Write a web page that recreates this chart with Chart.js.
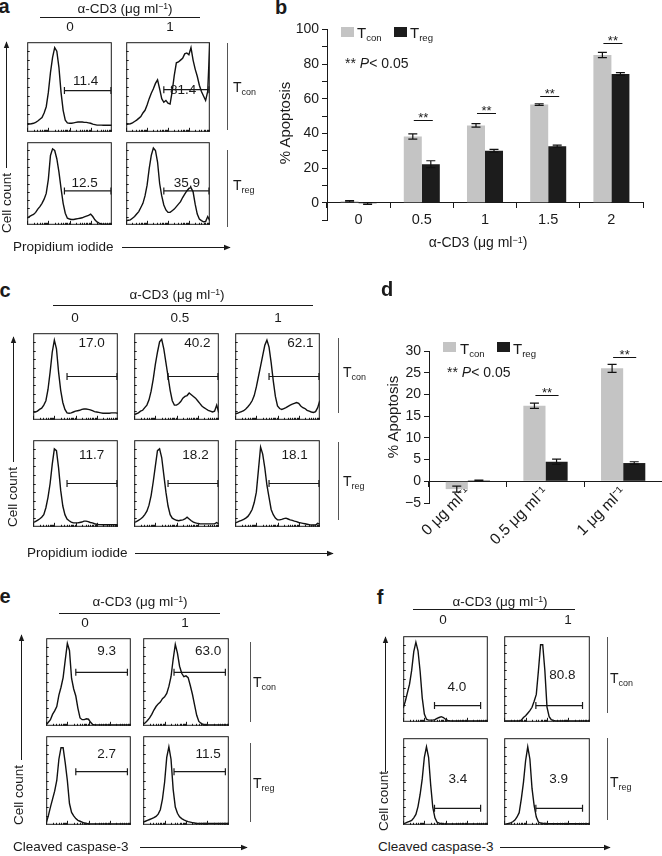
<!DOCTYPE html>
<html>
<head>
<meta charset="utf-8">
<script src="https://cdn.jsdelivr.net/npm/chart.js@4.4.1/dist/chart.umd.min.js"></script>
<style>
  body { margin: 0; background: #fff; }
  #fig { position: relative; width: 662px; height: 856px; background: #fff; overflow: hidden;
         font-family: "Liberation Sans", Arial, sans-serif; color: #1a1a1a; }
  #fig canvas { position: absolute; }
  .t { position: absolute; white-space: nowrap; line-height: 1; }
  .c { transform: translate(-50%, -50%); }
  .l { transform: translate(0, -50%); }
  .r { transform: translate(-50%, -50%) rotate(-90deg); }
  .b { font-weight: bold; }
  sub { font-size: 0.64em; vertical-align: -0.32em; line-height: 0; }
  sup { font-size: 0.64em; vertical-align: 0.5em; line-height: 0; }
  svg { position: absolute; left: 0; top: 0; }
  .sq { position: absolute; }
</style>
</head>
<body>
<div id="fig">
<svg width="662" height="856">
  <defs>
    <marker id="ah" viewBox="0 0 10 10" refX="9" refY="5" markerWidth="7" markerHeight="7" orient="auto">
      <path d="M0,1 L10,5 L0,9 z" fill="#1a1a1a"/>
    </marker>
  </defs>
  <g stroke="#1a1a1a" stroke-width="1" fill="none">
    <!-- a -->
    <line x1="40" y1="17.5" x2="200" y2="17.5"/>
    <line x1="6.5" y1="168" x2="6.5" y2="42" marker-end="url(#ah)"/>
    <line x1="122" y1="247.5" x2="230" y2="247.5" marker-end="url(#ah)"/>
    <!-- c -->
    <line x1="53" y1="305.5" x2="313" y2="305.5"/>
    <line x1="13.5" y1="462" x2="13.5" y2="337" marker-end="url(#ah)"/>
    <line x1="135" y1="553.5" x2="333" y2="553.5" marker-end="url(#ah)"/>
    <!-- e -->
    <line x1="59" y1="613.5" x2="220" y2="613.5"/>
    <line x1="21.5" y1="760" x2="21.5" y2="635" marker-end="url(#ah)"/>
    <line x1="140" y1="847.5" x2="247" y2="847.5" marker-end="url(#ah)"/>
    <!-- f -->
    <line x1="413" y1="609.5" x2="575" y2="609.5"/>
    <line x1="385.5" y1="772" x2="385.5" y2="637" marker-end="url(#ah)"/>
    <line x1="500" y1="847.5" x2="610" y2="847.5" marker-end="url(#ah)"/>
  </g>
  <g stroke="#555" stroke-width="1">
    <line x1="227.5" y1="43" x2="227.5" y2="130"/>
    <line x1="227.5" y1="150" x2="227.5" y2="227"/>
    <line x1="338.5" y1="338" x2="338.5" y2="413"/>
    <line x1="338.5" y1="442" x2="338.5" y2="520"/>
    <line x1="250.5" y1="642" x2="250.5" y2="722"/>
    <line x1="250.5" y1="743" x2="250.5" y2="822"/>
    <line x1="607.5" y1="637" x2="607.5" y2="713"/>
    <line x1="607.5" y1="738" x2="607.5" y2="820"/>
  </g>
</svg>
</div>
<script>
// ---------- data ----------
// common bin positions across each histogram box (% of width)
const binX = [0, 2.5, 5, 7.5, 10, 12.5, 15, 17.5, 20, 22.5, 25, 27.5, 30, 32.5, 35, 37.5, 40, 42.5, 45, 47.5,
              50, 52.5, 55, 57.5, 60, 62.5, 65, 67.5, 70, 72.5, 75, 77.5, 80, 82.5, 85, 87.5, 90, 92.5, 95, 97.5, 100];

// panel a: propidium iodide, alpha-CD3 0 / 1 (cell count, % of box height)
const aTcon0 = [8, 8.5, 9, 9.5, 10.5, 12, 14, 16, 21, 28, 44, 66, 83, 94, 90, 72, 44, 24, 13, 10,
                9.5, 9.5, 10, 10.5, 11, 11, 11, 10.5, 10.5, 10, 9.5, 8.5, 8, 7.5, 7.5, 7.5, 7.3, 7.3, 7.3, 7.3, 7.3];
const aTcon1 = [8, 8.5, 9, 10, 11.5, 13, 15, 17, 21, 24, 30, 37, 43, 48, 54, 58, 48, 37, 33, 35,
                32, 31, 45, 63, 77, 78, 80, 82, 87, 88, 86, 94, 80, 70, 62, 52, 45, 40, 35, 45, 100];
const aTreg0 = [8, 10, 11.5, 12.5, 15, 19, 22, 26, 31, 38, 55, 84, 92, 90, 80, 64, 44, 26, 14, 8,
                7, 6.5, 6.5, 7, 7.5, 8, 8.5, 9.5, 10.5, 11.5, 13, 10, 6, 3.5, 2, 1, 0.7, 0.7, 0.7, 0.7, 0.7];
const aTreg1 = [5, 5.5, 6, 8, 10, 13, 16, 21, 26, 35, 48, 68, 84, 93, 90, 76, 50, 35, 24, 18,
                15, 15, 17, 19, 22, 25, 28, 33, 37, 41, 44, 45, 40, 25, 13, 7, 5, 3.6, 4, 10, 5];
const aGateText = ['11.4', '81.4', '12.5', '35.9'];

// panel b: % apoptosis
const bDoses = ['0', '0.5', '1', '1.5', '2'];
const bTcon = [0.8, 38.2, 44.6, 56.6, 85.2];
const bTreg = [-0.5, 22.2, 30.0, 32.6, 74.2];
const bTconErr = [0.4, 1.5, 1.0, 0.5, 1.5];
const bTregErr = [0.5, 2.0, 0.8, 0.6, 0.8];
const bSig = [null, 48, 51.6, 61.4, 92];

// panel c: propidium iodide, alpha-CD3 0 / 0.5 / 1
const cTcon0 = [8.5, 9, 10, 12, 13.5, 17, 22, 35, 55, 78, 92, 82, 55, 34, 20, 12, 8, 7.5, 8, 9,
                10, 10.5, 11, 12, 12.5, 12.5, 12, 11.5, 10.5, 9.5, 9, 8.5, 8, 7.5, 7.5, 7.5, 7.5, 8, 8, 8, 7.5];
const cTcon05 = [6, 7, 8, 10, 11, 14, 17, 23, 33, 47, 64, 78, 90, 93, 82, 66, 50, 34, 22, 17,
                 17, 18.5, 21, 25, 27, 28, 31, 29, 27, 25, 22, 19, 16, 14, 12.5, 11, 10, 9, 10, 17, 8];
const cTcon1 = [7, 7.5, 8.5, 9.5, 10.5, 12.5, 15, 18, 22, 28, 38, 50, 62, 74, 86, 92, 84, 66, 45, 27,
                16, 13, 12, 13, 14, 15.5, 17, 18, 19, 20, 19, 16, 14, 13, 11, 10, 9, 8.5, 9.5, 14, 22];
const cTreg0 = [5, 6, 7.5, 9, 11, 14, 22, 34, 50, 72, 90, 88, 68, 42, 24, 14, 9, 7, 5.5, 4.5,
                4.5, 4.5, 5, 5.5, 6.5, 6.5, 6, 5, 4.5, 3.5, 3, 2.5, 2.5, 2.4, 2.4, 2.4, 2.4, 2.4, 2.4, 2.4, 2.4];
const cTreg05 = [5, 6, 7.5, 9, 11, 14, 18, 25, 36, 52, 70, 88, 90, 80, 60, 40, 24, 14, 10, 8.5,
                 7.5, 7, 7.5, 8, 9, 11, 9, 7, 5.5, 4.5, 4, 3.6, 3.4, 3.4, 3.4, 3.4, 3.4, 3.4, 3.4, 5, 3.4];
const cTreg1 = [4.5, 5.5, 6.5, 7.5, 8.5, 10, 12, 15.5, 20, 28, 40, 66, 92, 84, 68, 48, 34, 20, 14, 10,
                8, 8, 8.5, 9.5, 10, 9, 8, 7.5, 6.5, 6, 5, 4.5, 4, 3.5, 3, 2.5, 2, 2, 2, 4, 3];
const cGateText = ['17.0', '40.2', '62.1', '11.7', '18.2', '18.1'];

// panel d: % apoptosis
const dDoses = ['0 μg ml⁻¹', '0.5 μg ml⁻¹', '1 μg ml⁻¹'];
const dTcon = [-1.8, 17.4, 26.0];
const dTreg = [0.2, 4.5, 4.2];
const dTconErr = [0.7, 0.6, 0.9];
const dTregErr = [0.05, 0.6, 0.3];
const dSig = [null, 19.9, 28.7];

// panel e: cleaved caspase-3, alpha-CD3 0 / 1
const eTcon0 = [1, 4, 7, 13, 17, 22, 35, 44, 55, 75, 94, 86, 54, 42, 34, 20, 9, 7, 7, 8,
                7.5, 4, 1.5, 1, 1, 1, 1, 1, 1, 1, 1, 1, 1, 1, 1, 1, 1, 1, 1, 1, 1];
const eTcon1 = [2, 3.5, 6, 9, 13, 18, 22, 25, 27, 31, 33, 37, 45, 56, 76, 93, 83, 68, 60, 56,
                57, 55, 46, 36, 24, 12, 5, 3, 1.5, 1, 1, 1, 1, 1, 1, 1, 1, 1, 1, 1, 1];
const eTreg0 = [2, 10, 20, 29, 38, 50, 74, 87, 87, 70, 50, 24, 14, 10, 7, 5, 4, 3, 2, 1.5,
                1, 1, 1, 1, 1, 1, 1, 1, 1, 1, 1, 1, 1, 1, 1, 1, 1, 1, 1, 1, 1];
const eTreg1 = [3, 4, 5, 6, 7, 8, 9.5, 12, 17, 29, 48, 76, 88, 74, 40, 20, 13, 9, 7, 5.6,
                4.5, 3.5, 3, 2.5, 2, 1.5, 1.5, 1.5, 1.5, 1.5, 1.5, 1.5, 1.5, 1.5, 1.5, 1.5, 1.5, 1.5, 1.5, 1.5, 1.5];
const eGateText = ['9.3', '63.0', '2.7', '11.5'];

// panel f: cleaved caspase-3, alpha-CD3 0 / 1
const fTcon0 = [16, 24, 34, 44, 60, 82, 93, 83, 59, 28, 9, 3, 2, 2, 2, 2.5, 4, 5, 6, 5,
                3, 1.7, 1.2, 1, 1, 1, 1, 1, 1, 1, 1, 1, 1, 1, 1, 1, 1, 1, 1, 1, 1];
const fTcon1 = [1, 1, 1, 1, 1, 1, 1, 1, 2, 5, 7, 10, 13, 17, 24, 32, 60, 90, 90, 60,
                17, 6, 2.5, 1.5, 1, 1, 1, 1, 1, 1, 1, 1, 1, 1, 1, 1, 1, 1, 1, 1, 1];
const fTreg0 = [1, 2, 3, 4, 5, 8, 12, 21, 35, 53, 78, 90, 78, 46, 20, 8, 3, 2, 1.5, 1,
                1, 1, 1, 1, 1, 1, 1, 1, 1, 1, 1, 1, 1, 1, 1, 1, 1, 1, 1, 1, 1];
const fTreg1 = [0.7, 1, 1.5, 2.3, 3.5, 5.5, 9, 14, 30, 49, 74, 90, 76, 42, 22, 9, 3.2, 2, 1.7, 1.5,
                1.2, 1.2, 1.2, 1.2, 1.2, 1.2, 1.2, 1.2, 1.2, 1.2, 1.2, 1.2, 1.2, 1.2, 1.2, 1.2, 1.2, 1.2, 1.2, 1.2, 1.2];
const fGateText = ['4.0', '80.8', '3.4', '3.9'];

// ---------- style ----------
const INK = '#1a1a1a';
const GRAY = '#c4c4c4';
const BLACK = '#1c1c1c';
Chart.defaults.font.family = '"Liberation Sans", Arial, sans-serif';
Chart.defaults.color = INK;

const fig = document.getElementById('fig');

// boxes [left, top, width, height], gates [from %, to %, height %, label x %, label y %]
const histPanels = [
  { series: [aTcon0, aTcon1, aTreg0, aTreg1], text: aGateText,
    boxes: [[22, 37, 95, 100], [121, 37, 94, 100], [22, 137, 95, 93], [121, 137, 94, 93]],
    gates: [[44, 99, 46, 67, 56], [45, 99, 47, 66, 47], [44, 99, 41, 66, 51], [45, 99, 41, 70, 51]] },
  { series: [cTcon0, cTcon05, cTcon1, cTreg0, cTreg05, cTreg1], text: cGateText,
    boxes: [[28, 328, 95, 97], [129, 328, 95, 97], [230, 328, 95, 97],
            [28, 435, 95, 97], [129, 435, 95, 97], [230, 435, 95, 97]],
    gates: [[40, 99, 50, 67, 85], [40, 99, 50, 72, 85], [40, 99, 50, 74, 85],
            [40, 99, 50, 67, 79], [40, 99, 50, 70, 79], [40, 99, 50, 68, 79]] },
  { series: [eTcon0, eTcon1, eTreg0, eTreg1], text: eGateText,
    boxes: [[41, 633, 95, 98], [138, 633, 96, 98], [41, 731, 95, 99], [138, 731, 96, 99]],
    gates: [[35, 96, 61, 69, 82], [36, 96, 61, 73, 82], [35, 96, 60, 69, 77], [36, 96, 60, 73, 77]] },
  { series: [fTcon0, fTcon1, fTreg0, fTreg1], text: fGateText,
    boxes: [[398, 631, 95, 96], [499, 631, 96, 96], [398, 733, 95, 97], [499, 733, 96, 97]],
    gates: [[37, 91.5, 19, 62, 42], [37, 91.5, 19, 66, 54], [37, 91.5, 19, 63, 53], [37, 91.5, 19, 62, 53]] }
];

// frame with the little log ticks along the bottom and even ticks on the left
const frame = {
  id: 'frame',
  afterDatasetsDraw(chart) {
    const { ctx, chartArea: a } = chart;
    ctx.save();
    ctx.strokeStyle = INK;
    ctx.lineWidth = 1;
    ctx.strokeRect(a.left + 0.5, a.top + 0.5, a.width - 1, a.height - 1);
    ctx.beginPath();
    for (let i = 1; i < 10; i++) {
      const y = Math.round(a.top + a.height * i / 10) + 0.5;
      ctx.moveTo(a.left, y);
      ctx.lineTo(a.left + 2.5, y);
    }
    for (let d = 0; d < 4; d++) {
      for (let k = 1; k < 10; k++) {
        const x = Math.round(a.left + a.width * (d + Math.log10(k)) / 4) + 0.5;
        ctx.moveTo(x, a.bottom);
        ctx.lineTo(x, a.bottom - (k === 1 ? 4 : 2));
      }
    }
    ctx.stroke();
    ctx.restore();
  }
};

function addText(html, x, y, cls, size) {
  const el = document.createElement('div');
  el.className = 't ' + cls;
  el.innerHTML = html;
  el.style.left = x + 'px';
  el.style.top = y + 'px';
  el.style.fontSize = size + 'px';
  fig.appendChild(el);
}

function histogram(box, values, gate, label) {
  const [left, top, w, h] = box;
  const cv = document.createElement('canvas');
  cv.width = w;
  cv.height = h;
  cv.style.left = left + 'px';
  cv.style.top = top + 'px';
  fig.appendChild(cv);

  new Chart(cv, {
    type: 'line',
    data: {
      datasets: [
        {
          data: binX.map((x, i) => ({ x: x, y: values[i] })),
          borderColor: '#111', borderWidth: 1.4, pointRadius: 0, tension: 0
        },
        {
          data: [{ x: gate[0], y: gate[2] }, { x: gate[1], y: gate[2] }],
          borderColor: INK, borderWidth: 1.2,
          pointStyle: 'line', pointRotation: 90, pointRadius: 3.5,
          pointBorderColor: INK, pointBorderWidth: 1.2
        }
      ]
    },
    options: {
      responsive: false,
      animation: false,
      layout: { padding: 0 },
      plugins: { legend: { display: false }, tooltip: { enabled: false } },
      scales: {
        x: { type: 'linear', min: 0, max: 100, display: false },
        y: { min: 0, max: 100, display: false }
      }
    },
    plugins: [frame]
  });

  addText(label, left + gate[3] / 100 * w, top + (1 - gate[4] / 100) * h, 'c', 13.5);
}

histPanels.forEach(p => {
  p.series.forEach((s, i) => histogram(p.boxes[i], s, p.gates[i], p.text[i]));
});

// error bars + significance bars for the bar charts
const barExtras = {
  id: 'barExtras',
  afterDatasetsDraw(chart, args, opts) {
    const ctx = chart.ctx;
    const y = chart.scales.y;
    ctx.save();
    ctx.strokeStyle = '#111';
    ctx.fillStyle = INK;
    ctx.lineWidth = 1.2;
    opts.errors.forEach((errs, di) => {
      const meta = chart.getDatasetMeta(di);
      meta.data.forEach((bar, i) => {
        const v = chart.data.datasets[di].data[i];
        const e = errs[i];
        const yt = y.getPixelForValue(v + e);
        const yb = y.getPixelForValue(v - e);
        ctx.beginPath();
        ctx.moveTo(bar.x, yt); ctx.lineTo(bar.x, yb);
        ctx.moveTo(bar.x - opts.cap, yt); ctx.lineTo(bar.x + opts.cap, yt);
        ctx.moveTo(bar.x - opts.cap, yb); ctx.lineTo(bar.x + opts.cap, yb);
        ctx.stroke();
      });
    });
    const m0 = chart.getDatasetMeta(0);
    const m1 = chart.getDatasetMeta(1);
    ctx.font = '13px "Liberation Sans", Arial, sans-serif';
    ctx.textAlign = 'center';
    ctx.textBaseline = 'alphabetic';
    ctx.lineWidth = 1;
    opts.sig.forEach((s, i) => {
      if (s === null) return;
      const py = Math.round(y.getPixelForValue(s)) + 0.5;
      const x0 = m0.data[i].x + 1;
      const x1 = m1.data[i].x + 2;
      ctx.beginPath();
      ctx.moveTo(x0, py); ctx.lineTo(x1, py);
      ctx.stroke();
      ctx.fillText('**', (x0 + x1) / 2, py + 1);
    });
    ctx.restore();
  }
};

function barChart(pos, labels, tcon, treg, errs, sig, yOpts, xTicks, pad, yWidth) {
  const cv = document.createElement('canvas');
  cv.width = pos[2];
  cv.height = pos[3];
  cv.style.left = pos[0] + 'px';
  cv.style.top = pos[1] + 'px';
  fig.appendChild(cv);
  new Chart(cv, {
    type: 'bar',
    data: {
      labels: labels,
      datasets: [
        { label: 'Tcon', data: tcon, backgroundColor: GRAY },
        { label: 'Treg', data: treg, backgroundColor: BLACK }
      ]
    },
    options: {
      responsive: false,
      animation: false,
      layout: { padding: pad },
      datasets: { bar: { categoryPercentage: 0.57, barPercentage: 1 } },
      plugins: {
        legend: { display: false },
        tooltip: { enabled: false },
        barExtras: { errors: errs, sig: sig, cap: 4.5 }
      },
      scales: {
        x: {
          position: { y: 0 },
          grid: { drawOnChartArea: false, tickLength: 5, color: INK, offset: true },
          border: { color: INK, width: 1 },
          ticks: Object.assign({ color: INK, font: { size: 14 }, padding: 4 }, xTicks)
        },
        y: Object.assign({
          grid: { drawOnChartArea: false, tickLength: 5, color: INK },
          border: { color: INK, width: 1 },
          afterFit: s => { s.width = yWidth; }
        }, yOpts)
      }
    },
    plugins: [barExtras]
  });
}

barChart([288, 18, 362, 230], bDoses, bTcon, bTreg, [bTconErr, bTregErr], bSig,
  { min: -10, max: 100,
    ticks: { stepSize: 10, autoSkip: false, color: INK, font: { size: 14 }, padding: 3,
             callback: v => (v >= 0 && v % 20 === 0) ? String(v) : '' } },
  { font: { size: 14.5 } }, { top: 10, right: 7, bottom: 28, left: 0 }, 39);

barChart([388, 335, 274, 232], dDoses, dTcon, dTreg, [dTconErr, dTregErr], dSig,
  { min: -5, max: 30,
    ticks: { stepSize: 5, autoSkip: false, color: INK, font: { size: 14 }, padding: 3,
             callback: v => v < 0 ? '\u2212' + (-v) : String(v) } },
  { minRotation: 45, maxRotation: 45, autoSkip: false, padding: -3, font: { size: 15.5 } },
  { top: 16, right: 0, bottom: 64, left: 0 }, 41);

// ---------- labels ----------
const CD3 = 'α-CD3 (μg ml<sup>−1</sup>)';
const TCON = 'T<sub>con</sub>';
const TREG = 'T<sub>reg</sub>';

// panel letters
addText('a', 4, 6, 'c b', 20);
addText('b', 281, 7, 'c b', 20);
addText('c', 5, 290, 'c b', 20);
addText('d', 387, 289, 'c b', 20);
addText('e', 5, 596, 'c b', 20);
addText('f', 380, 597, 'c b', 20);

// a
addText(CD3, 125, 9, 'c', 13.5);
addText('0', 70, 27, 'c', 13.5);
addText('1', 170, 27, 'c', 13.5);
addText('Cell count', 7, 203, 'r', 13.5);
addText('Propidium iodide', 13, 247, 'l', 13.5);
addText(TCON, 233, 87, 'l', 14);
addText(TREG, 233, 185, 'l', 14);

// b
addText('% Apoptosis', 284, 123, 'r', 15);
addText(TCON, 357, 32, 'l', 15);
addText(TREG, 410, 32, 'l', 15);
addText('** <i>P</i>&lt; 0.05', 345, 63, 'l', 14);
addText(CD3, 478, 242, 'c', 14);

// c
addText(CD3, 177, 295, 'c', 13.5);
addText('0', 75, 318, 'c', 13.5);
addText('0.5', 180, 318, 'c', 13.5);
addText('1', 278, 318, 'c', 13.5);
addText('Cell count', 13, 497, 'r', 13.5);
addText('Propidium iodide', 27, 553, 'l', 13.5);
addText(TCON, 343, 372, 'l', 14);
addText(TREG, 343, 481, 'l', 14);

// d
addText('% Apoptosis', 392, 417, 'r', 15);
addText(TCON, 460, 348, 'l', 15);
addText(TREG, 513, 348, 'l', 15);
addText('** <i>P</i>&lt; 0.05', 447, 372, 'l', 14);

// e
addText(CD3, 140, 602, 'c', 13.5);
addText('0', 85, 623, 'c', 13.5);
addText('1', 185, 623, 'c', 13.5);
addText('Cell count', 19, 795, 'r', 13.5);
addText('Cleaved caspase-3', 13, 847, 'l', 13.5);
addText(TCON, 253, 682, 'l', 14);
addText(TREG, 253, 783, 'l', 14);

// f
addText(CD3, 500, 602, 'c', 13.5);
addText('0', 443, 620, 'c', 13.5);
addText('1', 568, 620, 'c', 13.5);
addText('Cell count', 384, 801, 'r', 13.5);
addText('Cleaved caspase-3', 378, 847, 'l', 13.5);
addText(TCON, 610, 678, 'l', 14);
addText(TREG, 610, 782, 'l', 14);

// legend squares
[[341, 27, GRAY], [394, 27, BLACK], [443, 342, GRAY], [497, 342, BLACK]].forEach(s => {
  const el = document.createElement('div');
  el.className = 'sq';
  el.style.left = s[0] + 'px';
  el.style.top = s[1] + 'px';
  el.style.width = '13px';
  el.style.height = '10px';
  el.style.background = s[2];
  fig.appendChild(el);
});
</script>
</body>
</html>
